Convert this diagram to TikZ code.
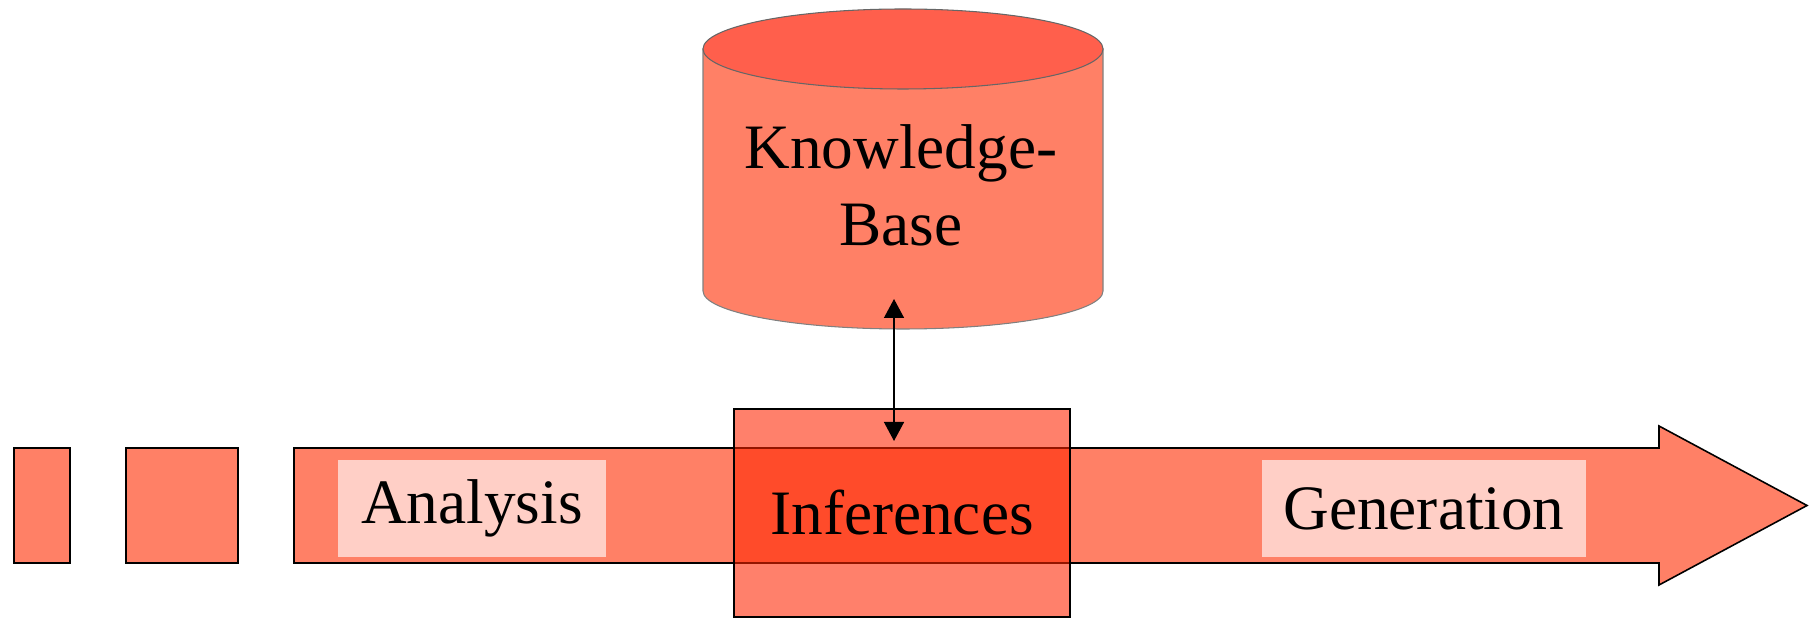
\documentclass[tikz,border=0pt]{standalone}
\usepackage{fontspec}
\setmainfont{Liberation Serif}
\usetikzlibrary{arrows.meta}
\definecolor{bar-salmon}{HTML}{FF8066}
\definecolor{label-pink}{HTML}{FFCFC6}
\definecolor{db-top}{HTML}{FF5F4C}
\definecolor{infer-red}{HTML}{FF2500}

\begin{document}
\begin{tikzpicture}[
    every node/.style={font=\fontsize{18}{21.9}\selectfont},
    block/.style={draw=black, line width=0.45pt, fill=bar-salmon,
      minimum height=1.15cm, inner sep=0pt},
    tag/.style={fill=label-pink, minimum height=0.97cm, inner sep=0pt}]
  \useasboundingbox (0,0) rectangle (18.11,6.18);
  % knowledge base drum
  \filldraw[fill=bar-salmon, draw=gray, line width=0.3pt]
    (7.03,5.69) -- (7.03,3.27)
    arc[start angle=180, end angle=360, x radius=2, y radius=0.38]
    -- (11.03,5.69) -- cycle;
  \filldraw[fill=db-top, draw=gray!80!black, line width=0.3pt]
    (9.03,5.69) ellipse[x radius=2, y radius=0.4];
  \node[align=center] (kb) at (9.01,4.33) {Knowledge-\\Base};
  % leading blocks and the main arrow
  \node[block, minimum width=0.56cm] (blk1) at (0.42,1.125) {};
  \node[block, minimum width=1.12cm] (blk2) at (1.82,1.125) {};
  \filldraw[fill=bar-salmon, line width=0.45pt]
    (2.94,1.70) -- (16.59,1.70) -- (16.59,1.92) -- (18.07,1.125)
    -- (16.59,0.33) -- (16.59,0.55) -- (2.94,0.55) -- cycle;
  \node[tag, minimum width=2.68cm] (ana) at (4.72,1.095) {Analysis};
  \node[tag, minimum width=3.24cm] (gen) at (14.24,1.095) {Generation};
  \node[draw=black, line width=0.45pt, fill=infer-red, fill opacity=0.58,
    text opacity=1, minimum width=3.36cm, minimum height=2.08cm]
    (inf) at (9.02,1.05) {Inferences};
  % link between the base and the inference step
  \coordinate (kb-in) at (8.94,3.19);
  \coordinate (inf-in) at (8.94,1.77);
  \draw[{Triangle[width=0.2cm,length=0.19cm]}-{Triangle[width=0.2cm,length=0.19cm]},
    line width=0.4pt] (kb-in) -- (inf-in);
\end{tikzpicture}
\end{document}
